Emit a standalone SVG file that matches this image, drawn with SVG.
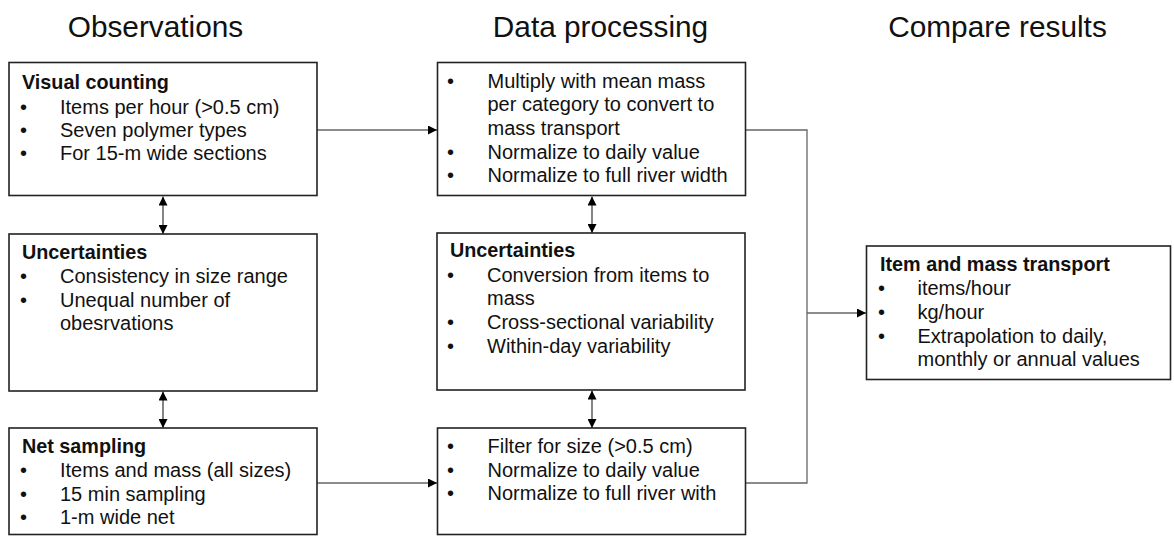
<svg xmlns="http://www.w3.org/2000/svg" width="1174" height="536" viewBox="0 0 1174 536">
<style>
text{font-family:"Liberation Sans",Arial,sans-serif;fill:#111;}
.h{font-size:29.8px;text-anchor:middle;}
.t{font-size:19.8px;font-weight:bold;}
.b{font-size:20px;}
.box{fill:#fff;stroke:#222;stroke-width:1.6;}
.c{fill:none;stroke:#666;stroke-width:1.3;}
.v{fill:none;stroke:#333;stroke-width:1.2;}
</style>
<defs>
<marker id="ah" viewBox="0 0 10 10" refX="10" refY="5" markerWidth="9" markerHeight="9" markerUnits="userSpaceOnUse" orient="auto-start-reverse">
<path d="M0,0 L10,5 L0,10 Z" fill="#000"/>
</marker>
</defs>
<rect width="1174" height="536" fill="#fff"/>
<text class="h" x="155.5" y="36.5">Observations</text>
<text class="h" x="600.5" y="36.5">Data processing</text>
<text class="h" x="997.5" y="36.5">Compare results</text>

<g id="connectors">
<line class="c" x1="317" y1="130" x2="437" y2="130" marker-end="url(#ah)"/>
<line class="c" x1="317" y1="483" x2="437" y2="483" marker-end="url(#ah)"/>
<polyline class="c" points="746,130 807,130 807,483 746,483"/>
<line class="c" x1="807" y1="313" x2="866" y2="313" marker-end="url(#ah)"/>
<line class="v" x1="163" y1="196.5" x2="163" y2="234" marker-start="url(#ah)" marker-end="url(#ah)"/>
<line class="v" x1="163" y1="391.5" x2="163" y2="428" marker-start="url(#ah)" marker-end="url(#ah)"/>
<line class="v" x1="592" y1="196.5" x2="592" y2="233" marker-start="url(#ah)" marker-end="url(#ah)"/>
<line class="v" x1="592" y1="390.5" x2="592" y2="428" marker-start="url(#ah)" marker-end="url(#ah)"/>
</g>

<g id="visual-counting">
<rect class="box" x="9" y="62.5" width="308" height="133"/>
<text class="t" x="22" y="89">Visual counting</text>
<text class="b" x="20" y="113.5">•</text><text class="b" x="60" y="113.5">Items per hour (&gt;0.5 cm)</text>
<text class="b" x="20" y="137">•</text><text class="b" x="60" y="137">Seven polymer types</text>
<text class="b" x="20" y="160">•</text><text class="b" x="60" y="160">For 15-m wide sections</text>
</g>

<g id="obs-uncertainties">
<rect class="box" x="9" y="234" width="308" height="157"/>
<text class="t" x="22" y="258.5">Uncertainties</text>
<text class="b" x="20" y="282.5">•</text><text class="b" x="60" y="282.5">Consistency in size range</text>
<text class="b" x="20" y="306.5">•</text><text class="b" x="60" y="306.5">Unequal number of</text>
<text class="b" x="60" y="330">obesrvations</text>
</g>

<g id="net-sampling">
<rect class="box" x="9" y="428" width="308" height="106.5"/>
<text class="t" x="22" y="453">Net sampling</text>
<text class="b" x="20" y="477">•</text><text class="b" x="60" y="477">Items and mass (all sizes)</text>
<text class="b" x="20" y="500.5">•</text><text class="b" x="60" y="500.5">15 min sampling</text>
<text class="b" x="20" y="524">•</text><text class="b" x="60" y="524">1-m wide net</text>
</g>

<g id="processing-visual">
<rect class="box" x="437.5" y="62.5" width="308" height="133"/>
<text class="b" x="447" y="87.5">•</text><text class="b" x="487.5" y="87.5">Multiply with mean mass</text>
<text class="b" x="487.5" y="111">per category to convert to</text>
<text class="b" x="487.5" y="134.5">mass transport</text>
<text class="b" x="447" y="158.5">•</text><text class="b" x="487.5" y="158.5">Normalize to daily value</text>
<text class="b" x="447" y="182">•</text><text class="b" x="487.5" y="182">Normalize to full river width</text>
</g>

<g id="proc-uncertainties">
<rect class="box" x="437" y="233" width="308" height="157"/>
<text class="t" x="450" y="257">Uncertainties</text>
<text class="b" x="447" y="281.5">•</text><text class="b" x="487" y="281.5">Conversion from items to</text>
<text class="b" x="487" y="305">mass</text>
<text class="b" x="447" y="329">•</text><text class="b" x="487" y="329">Cross-sectional variability</text>
<text class="b" x="447" y="352.5">•</text><text class="b" x="487" y="352.5">Within-day variability</text>
</g>

<g id="processing-net">
<rect class="box" x="437.5" y="428" width="308" height="106.5"/>
<text class="b" x="447" y="453">•</text><text class="b" x="487.5" y="453">Filter for size (&gt;0.5 cm)</text>
<text class="b" x="447" y="476.5">•</text><text class="b" x="487.5" y="476.5">Normalize to daily value</text>
<text class="b" x="447" y="500">•</text><text class="b" x="487.5" y="500">Normalize to full river with</text>
</g>

<g id="transport">
<rect class="box" x="866.5" y="246" width="304" height="133.5"/>
<text class="t" x="880" y="271">Item and mass transport</text>
<text class="b" x="878" y="295">•</text><text class="b" x="917.5" y="295">items/hour</text>
<text class="b" x="878" y="318.5">•</text><text class="b" x="917.5" y="318.5">kg/hour</text>
<text class="b" x="878" y="342.5">•</text><text class="b" x="917.5" y="342.5">Extrapolation to daily,</text>
<text class="b" x="917.5" y="366">monthly or annual values</text>
</g>
</svg>
